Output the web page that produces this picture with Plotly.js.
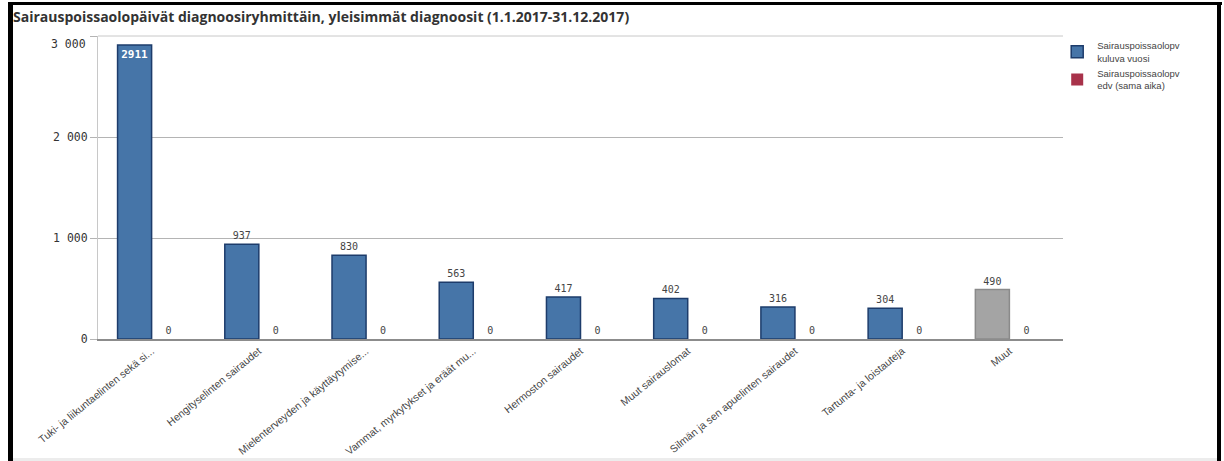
<!DOCTYPE html>
<html>
<head>
<meta charset="utf-8">
<script src="https://cdn.plot.ly/plotly-3.0.1.min.js"></script>
<style>
  html, body { margin: 0; padding: 0; background: #fff; }
  #wrap { position: relative; width: 1224px; height: 461px; overflow: hidden; }
  #chart { position: absolute; left: 0; top: 0; width: 1224px; height: 461px; }
  .frame { position: absolute; background: #000; }
</style>
</head>
<body>
<div id="wrap">
  <div id="chart"></div>
  <div class="frame" style="left:8px; top:2px; width:1214px; height:3px;"></div>
  <div class="frame" style="left:8px; top:2px; width:5px; height:459px;"></div>
  <div class="frame" style="left:1217px; top:2px; width:4px; height:459px;"></div>
  <div style="position:absolute; left:13px; top:458px; width:1204px; height:3px; background:#ececec;"></div>
</div>
<script>
// ---- data ----
const categories = [
  "Tuki- ja liikuntaelinten sekä si...",
  "Hengityselinten sairaudet",
  "Mielenterveyden ja käyttäytymise...",
  "Vammat, myrkytykset ja eräät mu...",
  "Hermoston sairaudet",
  "Muut sairauslomat",
  "Silmän ja sen apuelinten sairaudet",
  "Tartunta- ja loistauteja",
  "Muut"
];
const currentYear = [2911, 937, 830, 563, 417, 402, 316, 304, 490];
const previousYear = [0, 0, 0, 0, 0, 0, 0, 0, 0];
const seriesNames = ["Sairauspoissaolopv<br>kuluva vuosi", "Sairauspoissaolopv<br>edv (sama aika)"];
const yTickVals = [0, 1000, 2000, 3000];
const yTickText = ["0", "1 000", "2 000", "3 000"];
const chartTitle = "Sairauspoissaolopäivät diagnoosiryhmittäin, yleisimmät diagnoosit (1.1.2017-31.12.2017)";

// ---- styles ----
const mono = "DejaVu Sans Mono, monospace";
const sans = "Open Sans, Liberation Sans, sans-serif";
const arial = "Liberation Sans, Arial, sans-serif";
const fillColors = categories.map(c => c === "Muut" ? "#a4a4a4" : "#4675a8");
const lineColors = categories.map(c => c === "Muut" ? "#8a8a8a" : "#1d3c6b");
const textPos = currentYear.map((v, i) => i === 0 ? "inside" : "outside");

const traces = [
  {
    type: "bar",
    name: seriesNames[0],
    x: categories,
    y: currentYear,
    text: currentYear.map(v => String(v)),
    textposition: textPos,
    insidetextanchor: "end",
    constraintext: "none",
    insidetextfont: { family: mono, size: 11, color: "#ffffff", weight: "bold" },
    outsidetextfont: { family: mono, size: 10, color: "#444444" },
    cliponaxis: false,
    marker: { color: fillColors, line: { color: lineColors, width: 1.5 } },
    hoverinfo: "x+y"
  },
  {
    type: "bar",
    name: seriesNames[1],
    x: categories,
    y: previousYear,
    text: previousYear.map(v => String(v)),
    textposition: "outside",
    constraintext: "none",
    outsidetextfont: { family: mono, size: 10, color: "#444444" },
    cliponaxis: false,
    marker: { color: "#a8324a", line: { width: 0 } },
    hoverinfo: "x+y"
  }
];

const layout = {
  width: 1224,
  height: 461,
  margin: { l: 98, r: 161, t: 36, b: 122, pad: 0 },
  paper_bgcolor: "#ffffff",
  plot_bgcolor: "#ffffff",
  barmode: "group",
  bargap: 0.365,
  bargroupgap: 0,
  title: {
    text: chartTitle,
    font: { family: sans, size: 14, color: "#333333", weight: "bold" },
    x: 13 / 1224,
    xanchor: "left",
    xref: "container",
    y: 1 - 17 / 461,
    yanchor: "middle",
    yref: "container"
  },
  xaxis: {
    type: "category",
    automargin: false,
    tickangle: -39,
    tickfont: { family: arial, size: 10.5, color: "#444444" },
    showline: true,
    linecolor: "#8c8c8c",
    linewidth: 2,
    ticks: "",
    showgrid: false,
    fixedrange: true
  },
  yaxis: {
    automargin: false,
    range: [0, 3000],
    tickvals: yTickVals,
    ticktext: yTickText.map((t, i) => yTickVals[i] === 3000 ? "" : t),
    tickfont: { family: mono, size: 11.5, color: "#333333" },
    ticks: "outside",
    ticklen: 7,
    tickcolor: "#b4b4b4",
    showgrid: true,
    gridcolor: "#b4b4b4",
    gridwidth: 1,
    showline: true,
    linecolor: "#c8c8c8",
    linewidth: 1,
    zeroline: false,
    fixedrange: true
  },
  shapes: [
    { type: "line", xref: "paper", yref: "paper", x0: 0, x1: 1, y0: 1, y1: 1,
      line: { color: "#c8c8c8", width: 1 } }
  ],
  annotations: [
    { xref: "paper", yref: "y", x: 0, y: yTickVals[3], text: yTickText[3],
      xanchor: "right", yanchor: "middle", xshift: -10, yshift: -8, showarrow: false,
      font: { family: mono, size: 11.5, color: "#333333" } }
  ],
  legend: {
    x: 0.994,
    xanchor: "left",
    y: 1.01,
    yanchor: "top",
    font: { family: arial, size: 9.5, color: "#444444" },
    bgcolor: "rgba(0,0,0,0)",
    tracegroupgap: 0,
    itemclick: false
  },
  showlegend: true,
  uniformtext: { mode: false }
};

Plotly.newPlot("chart", traces, layout, { displayModeBar: false, staticPlot: true });
</script>
</body>
</html>
